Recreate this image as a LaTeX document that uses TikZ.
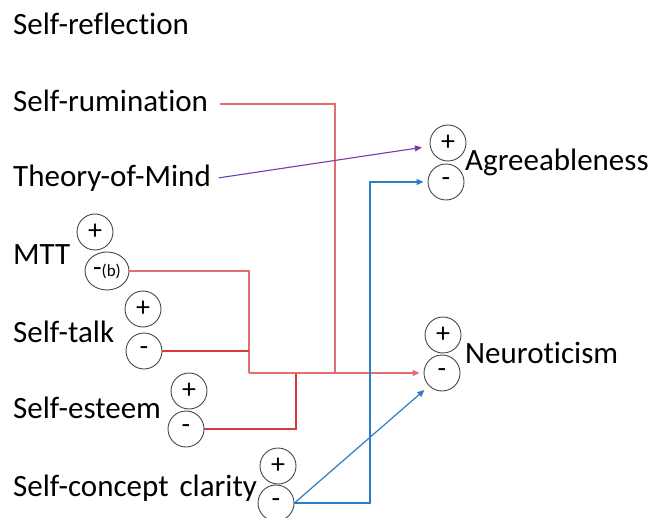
\documentclass[tikz,border=0pt]{standalone}
\usepackage{fontspec}
\setmainfont{Carlito}[Ligatures=NoCommon]
\usetikzlibrary{arrows.meta,shapes.geometric}
\definecolor{lnred}{RGB}{214,58,62}
\definecolor{lnpink}{RGB}{226,110,112}
\definecolor{lnblue}{RGB}{46,125,196}
\definecolor{lnpurple}{RGB}{120,60,170}
\definecolor{rimgray}{RGB}{70,70,70}
\tikzset{
    LB/.style ={anchor=base west,inner sep=2pt,font=\fontsize{31}{36}\selectfont},
    SG/.style ={circle,minimum size=36pt,inner sep=0pt,draw=rimgray,line width=0.9pt,font=\fontsize{28}{30}\selectfont},
    SGE/.style ={ellipse,minimum width=44pt,minimum height=38pt,inner sep=0pt,draw=rimgray,line width=0.9pt,font=\fontsize{28}{30}\selectfont},
    LR/.style ={draw=lnred,line width=1.2pt},
    LK/.style ={draw=lnpink,line width=1.3pt},
    LU/.style ={draw=lnblue,line width=1.2pt},
    LP/.style ={draw=lnpurple,line width=1.1pt},
    TP/.style ={-{Triangle[length=7pt,width=6pt]}}}

\begin{document}
\begin{tikzpicture}[x=1pt,y=-1pt]
        \useasboundingbox (0,0) rectangle (652,518);
        \node[LB] (refl) at (11,35) {Self-reflection};
        \node[LB] (rum) at (11,112) {Self-rumination};
        \node[LB] (tom) at (11,187) {Theory-of-Mind};
        \node[LB] (mtt) at (11,265) {MTT};
        \node[LB] (talk) at (11,342) {Self-talk};
        \node[LB] (est) at (11,418) {Self-esteem};
        \node[LB] (scc) at (11,496) {Self-concept\hspace{4pt} clarity};
        \node[LB] (agr) at (463,171) {Agreeableness};
        \node[LB] (neu) at (463,363) {Neuroticism};
        \draw (95,232) node[SG] (mP) {+};
        \draw (107,271) node[SGE] (mM) {-{\fontsize{17}{17}\selectfont(b)}};
        \draw (143,309) node[SG] (tP) {+};
        \draw (144,351) node[SG] (tM) {-};
        \draw (189,391) node[SG] (eP) {+};
        \draw (186,429) node[SG] (eM) {-};
        \draw (278,466) node[SG] (cP) {+};
        \draw (276,503) node[SG] (cM) {-};
        \draw (448,143) node[SG] (aP) {+};
        \draw (446,182) node[SG] (aM) {-};
        \draw (443,335) node[SG] (nP) {+};
        \draw (442,373) node[SG] (nM) {-};
        \coordinate (jM) at (249,373);
        \coordinate (jE) at (296,373);
        \coordinate (jR) at (335,373);
        \coordinate (rR) at (335,104);
        % red paths into Neuroticism
        \draw[LK] (mM.east) -| (jM);
        \draw[LR] (tM.east) -- (tM.east -| jM);
        \draw[LR] (eM.east) -| (jE);
        \draw[LK] (rum.east |- rR) ++(10,0) -- (rR) -- (jR);
        \draw[LK,TP,shorten >=4pt] (jM) -- (nM.west);
        % other arrows
        \draw[LP,TP,shorten <=6pt,shorten >=8pt] (tom.east) -- (aP.190);
        \draw[LU,TP,shorten >=4pt] (cM.east) -- ++(75.5,0) |- (aM.west);
        \draw[LU,TP,shorten >=6pt] (cM.east) -- (nM.225);
    \end{tikzpicture}
\end{document}
